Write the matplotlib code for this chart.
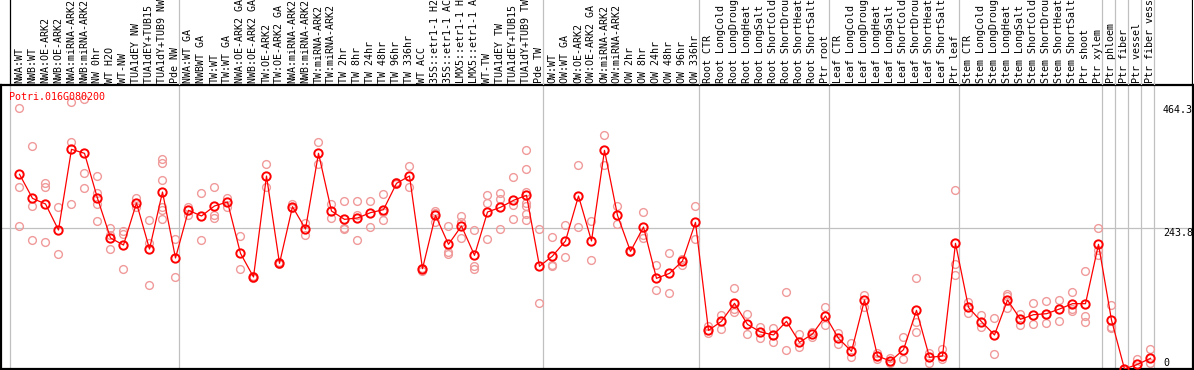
import matplotlib
matplotlib.use('AGG')
import matplotlib.pyplot as plt
import matplotlib.transforms as mtransforms
import numpy as np

# sample names (shown cut to 14 characters, as in the browser view)
samples = [
	"NWA:WT", "NWB:WT", "NWA:OE-ARK2", "NWB:OE-ARK2", "NWA:miRNA-ARK2", "NWB:miRNA-ARK2",
	"NW 0hr", "WT H2O", "WT-NW", "TUA1dEY NW", "TUA1dEY+TUB15 NW", "TUA1dY+TUB9 NW", "Pde NW",
	"NWA:WT GA", "NWBWT GA", "TW:WT", "TW:WT GA", "NWA:OE-ARK2 GA", "NWB:OE-ARK2 GA",
	"TW:OE-ARK2", "TW:OE-ARK2 GA", "NWA:miRNA-ARK2 GA", "NWB:miRNA-ARK2 GA", "TW:miRNA-ARK2",
	"TW:miRNA-ARK2 GA", "TW 2hr", "TW 8hr", "TW 24hr", "TW 48hr", "TW 96hr", "TW 336hr",
	"WT ACC", "35S::etr1-1 H2O", "35S::etr1-1 ACC", "LMX5::etr1-1 H2O", "LMX5::etr1-1 ACC",
	"WT-TW", "TUA1dEY TW", "TUA1dEY+TUB15 TW", "TUA1dY+TUB9 TW", "Pde TW",
	"OW:WT", "OW:WT GA", "OW:OE-ARK2", "OW:OE-ARK2 GA", "OW:miRNA-ARK2", "OW:miRNA-ARK2 GA",
	"OW 2hr", "OW 8hr", "OW 24hr", "OW 48hr", "OW 96hr", "OW 336hr",
	"Root CTR", "Root LongCold", "Root LongDrought", "Root LongHeat", "Root LongSalt",
	"Root ShortCold", "Root ShortDrought", "Root ShortHeat", "Root ShortSalt", "Ptr root",
	"Leaf CTR", "Leaf LongCold", "Leaf LongDrought", "Leaf LongHeat", "Leaf LongSalt",
	"Leaf ShortCold", "Leaf ShortDrought", "Leaf ShortHeat", "Leaf ShortSalt", "Ptr leaf",
	"Stem CTR", "Stem LongCold", "Stem LongDrought", "Stem LongHeat", "Stem LongSalt",
	"Stem ShortCold", "Stem ShortDrought", "Stem ShortHeat", "Stem ShortSalt", "Ptr shoot", "Ptr xylem",
	"Ptr phloem", "Ptr fiber", "Ptr vessel", "Ptr fiber vessel",
]
group_sizes = [13, 28, 12, 10, 10, 11, 1, 1, 1, 1]

means = [
	335.9, 294.9, 285.3, 240.9, 378.5, 371.7, 294.9, 227.3, 215.3, 287.0, 208.5, 305.7, 193.2,
	274.5, 264.8, 281.9, 288.7, 201.1, 160.8, 333.0, 184.1, 280.7, 242.6, 371.7, 273.3, 259.1,
	261.4, 270.5, 275.6, 320.5, 333.0, 175.0, 265.9, 216.5, 247.8, 197.7, 271.6, 279.6, 291.5,
	300.1, 179.0,
	196.6, 222.2, 298.9, 222.2, 376.8, 265.9, 204.5, 246.0, 158.5, 167.0, 188.1, 254.0,
	69.8, 85.2, 115.9, 80.0, 67.0, 61.9, 85.2, 49.3, 63.6, 94.3,
	56.2, 34.0, 121.5, 26.0, 17.5, 36.8, 103.9, 23.8, 26.0, 218.2,
	109.0, 84.6, 61.9, 121.5, 88.6, 96.5, 98.2, 106.2, 115.3, 115.3, 216.5,
	87.4, 3.9, 11.8, 22.1,
]

replicates = [
	[448.4, 313.7, 247.2], [384.2, 281.3, 223.9], [321.7, 314.8, 220.5], [279.6, 199.4],
	[458.7, 391.0, 285.3], [464.3, 338.1, 312.6], [333.0, 303.5, 285.3, 256.3],
	[244.3, 233.0, 208.5], [239.8, 234.1, 174.4], [296.1, 280.2], [258.0, 218.2, 147.1],
	[362.0, 355.2, 325.6, 280.7, 275.0, 259.1], [225.6, 160.2],
	[280.7, 266.5], [304.0, 223.9], [314.3, 266.5, 262.0], [296.1, 279.6], [230.1, 174.4],
	[163.0, 159.6], [352.9, 313.7], [186.9, 182.4], [285.3, 277.9], [252.3, 232.4],
	[390.4, 352.9], [285.3, 260.8], [291.0, 243.8, 242.1], [289.8, 267.1, 223.9],
	[291.0, 245.5], [301.8, 272.2, 257.4], [323.4, 318.8], [349.5, 313.7], [176.7, 171.6],
	[273.3, 270.5, 254.0], [247.2, 202.8, 200.6], [264.8, 254.0, 226.7],
	[240.4, 179.5, 173.8], [300.1, 286.4, 225.6], [304.6, 293.2, 242.1],
	[331.3, 283.0, 259.1], [377.4, 344.4, 306.3, 286.4, 281.9, 267.7, 258.0], [242.1, 115.9],
	[228.4, 180.7, 179.9], [249.5, 194.3], [351.8, 246.0], [255.7, 189.2], [402.4, 351.8],
	[281.9, 250.6], [205.7, 203.4], [271.6, 232.4, 226.7], [180.7, 138.6], [201.7, 132.9],
	[191.5, 181.2], [281.3, 225.6],
	[77.8, 64.7], [96.0, 71.5], [141.4, 106.2, 100.5], [97.1, 63.6], [74.9, 56.2],
	[73.8, 50.5], [134.6, 35.7], [63.0, 40.8], [67.5, 57.9], [109.0, 78.9],
	[64.7, 45.9], [48.8, 24.9], [129.5, 109.0], [31.7, 20.9], [22.1, 13.5], [57.9, 20.4],
	[159.1, 83.5, 67.5], [30.6, 13.5], [38.0, 20.9], [308.6, 182.9, 163.6],
	[118.1, 99.9], [96.0, 76.1], [90.3, 29.4], [131.8, 128.4, 107.9], [97.1, 79.5],
	[115.9, 80.6], [119.3, 82.3], [121.5, 85.2], [135.2, 105.6, 102.8], [171.0, 94.8, 83.5],
	[243.8, 206.8, 198.3],
	[113.0, 76.1, 73.2], [4.3, 3.5], [20.9, 6.1], [37.4, 13.5],
]

gene = "Potri.016G080200"
ytick_vals = [0, 243.8, 464.3]
ytick_pos = [22.6, 243.8, 454.1]  # where the browser prints them

W, H = 1194, 370
mono = 'DejaVu Sans Mono'
fs = 7.2
grey = '#c0c0c0'
rep_col = '#f09a9a'

fig = plt.figure(figsize=(W / 100, H / 100), dpi=100)
ax = fig.add_axes([1 / W, 1 - 369 / H, 1192 / W, 284 / H])
ax_h = fig.add_axes([1 / W, 1 - 85 / H, 1192 / W, 85 / H])

xlim = (-1.423, 90.27)
ax.set_xlim(*xlim)
ax.set_ylim(3.9, 488.2)
ax_h.set_xlim(*xlim)
ax_h.set_ylim(0, 1)

x = np.arange(len(samples))

# group separators
starts = np.concatenate([[0], np.cumsum(group_sizes)]) - 0.73
for k, s in enumerate(starts):
	ax.axvline(s, color=grey, lw=0.9, zorder=0)
	ax_h.axvline(s, color='black' if k == 0 else grey, lw=0.9)
ax.axhline(243.8, color=grey, lw=0.9, zorder=0)

# replicates, then the mean line
for i, reps in enumerate(replicates):
	ax.plot([x[i]] * len(reps), reps, 'o', ms=5.6, mfc='none', mec=rep_col, mew=1.0, zorder=2)
ax.plot(x, means, '-', color='red', lw=0.9, zorder=3)
ax.plot(x, means, 'o', ms=6, mfc='none', mec='red', mew=1.4, zorder=4)

for sp in ax.spines.values():
	sp.set_linewidth(1.6)
ax.set_xticks([])
ax.set_yticks([])

ax.text(8.5 / 1192, 1 - 7 / 284, gene, transform=ax.transAxes, color='red',
	fontsize=fs, family=mono, ha='left', va='top')

trans_y = mtransforms.blended_transform_factory(ax.transAxes, ax.transData)
for v, p in zip(ytick_vals, ytick_pos):
	lab = '0' if v == 0 else '%.1f' % v
	ax.text(1162 / 1192, p, lab, transform=trans_y, fontsize=fs, family=mono,
		ha='left', va='top', clip_on=True)

# header with rotated sample names
ax_h.axis('off')
ax_h.axvline(xlim[1], color='black', lw=1.6)
trans_h = mtransforms.blended_transform_factory(ax_h.transData, ax_h.transAxes)
for i, name in enumerate(samples):
	ax_h.text(x[i], 2 / 85, name[:14], transform=trans_h, rotation=90,
		fontsize=fs, family=mono, ha='center', va='bottom', clip_on=True)

plt.savefig('out.png', dpi=100)
